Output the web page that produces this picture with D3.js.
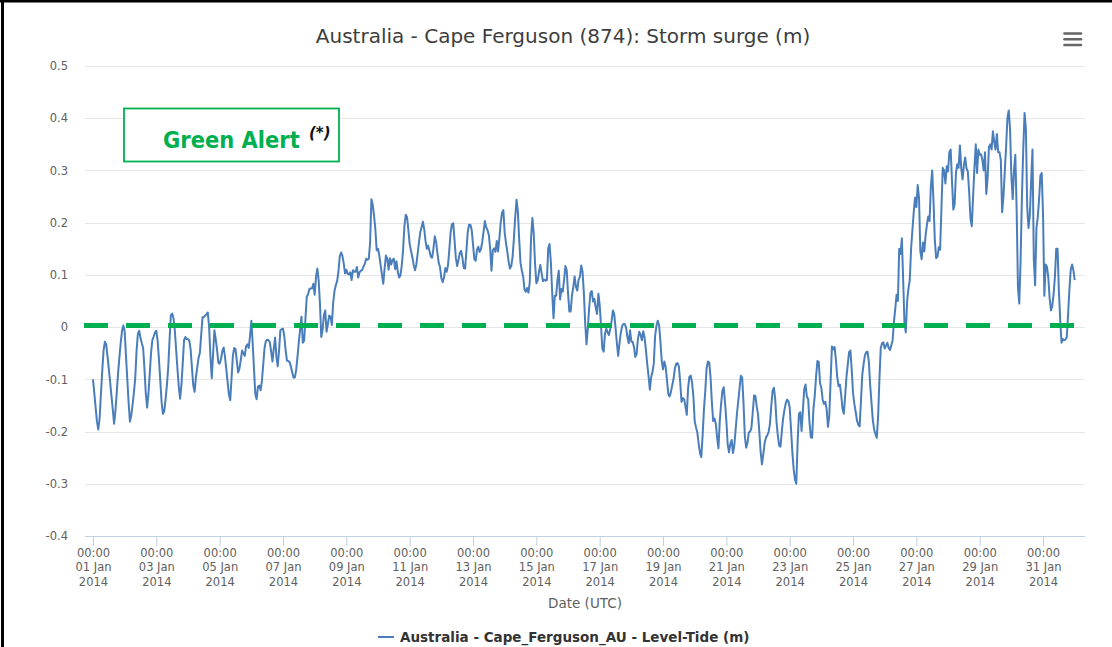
<!DOCTYPE html>
<html>
<head>
<meta charset="utf-8">
<script src="https://cdn.jsdelivr.net/npm/d3@7"></script>
<style>
  html, body { margin: 0; padding: 0; background: #ffffff; }
  svg { display: block; }
</style>
</head>
<body>
<svg id="chart" width="1112" height="647"></svg>
<script>
// ---------------- DATA ----------------
const chartTitle = "Australia - Cape Ferguson (874): Storm surge (m)";
const seriesName = "Australia - Cape_Ferguson_AU - Level-Tide (m)";
const xAxisTitle = "Date (UTC)";
const alertLabel = "Green Alert";
const alertNote = "(*)";
const seriesStart = Date.UTC(2014, 0, 1, 0, 0);   // first reading, 01 Jan 2014 00:00 UTC
const stepHours = 1;                              // hourly readings
const alertLevel = 0.003;                         // green alert threshold line (m)
const yTicks = [0.5, 0.4, 0.3, 0.2, 0.1, 0, -0.1, -0.2, -0.3, -0.4];
const yTickLabels = ["0.5", "0.4", "0.3", "0.2", "0.1", "0", "-0.1", "-0.2", "-0.3", "-0.4"];
const xTickDays = [1, 3, 5, 7, 9, 11, 13, 15, 17, 19, 21, 23, 25, 27, 29, 31];
const xTickLabels = ["01 Jan", "03 Jan", "05 Jan", "07 Jan", "09 Jan", "11 Jan", "13 Jan", "15 Jan",
                     "17 Jan", "19 Jan", "21 Jan", "23 Jan", "25 Jan", "27 Jan", "29 Jan", "31 Jan"];
const xDomainStart = Date.UTC(2013, 11, 31, 17, 56);
const xDomainEnd = Date.UTC(2014, 1, 1, 7, 48);

// storm surge (m), hourly, one row per day (01 Jan ... 31 Jan, then 01 Feb 00:00)
const surge = [
  -0.100,-0.127,-0.154,-0.181,-0.196,-0.175,-0.128,-0.084,-0.045,-0.028,-0.033,-0.056,-0.080,-0.106,-0.132,-0.158,-0.185,-0.160,-0.125,-0.088,-0.058,-0.030,-0.007,0.003,
  -0.008,-0.055,-0.100,-0.145,-0.181,-0.169,-0.149,-0.125,-0.098,-0.046,-0.013,-0.007,-0.021,-0.031,-0.040,-0.080,-0.127,-0.154,-0.128,-0.089,-0.049,-0.025,-0.018,-0.010,
  -0.007,-0.027,-0.062,-0.103,-0.144,-0.166,-0.161,-0.138,-0.111,-0.078,-0.025,0.023,0.026,0.017,-0.006,-0.043,-0.080,-0.114,-0.137,-0.111,-0.070,-0.025,-0.019,-0.023,
  -0.023,-0.026,-0.043,-0.078,-0.112,-0.124,-0.096,-0.077,-0.059,-0.049,-0.015,0.019,0.019,0.022,0.025,0.028,0.000,-0.056,-0.098,-0.052,-0.006,-0.023,-0.043,-0.068,
  -0.070,-0.061,-0.046,-0.039,-0.056,-0.080,-0.105,-0.129,-0.140,-0.098,-0.055,-0.040,-0.042,-0.065,-0.087,-0.079,-0.063,-0.045,-0.050,-0.055,-0.037,-0.033,-0.040,-0.017,
  0.012,-0.030,-0.080,-0.128,-0.138,-0.114,-0.112,-0.121,-0.103,-0.072,-0.040,-0.027,-0.024,-0.025,-0.029,-0.047,-0.066,-0.041,-0.020,-0.057,-0.075,-0.045,-0.006,-0.004,
  -0.003,-0.018,-0.045,-0.064,-0.065,-0.067,-0.076,-0.087,-0.097,-0.096,-0.082,-0.056,-0.028,-0.004,0.020,-0.030,-0.026,0.016,0.058,0.063,0.073,0.074,0.074,0.083,
  0.062,0.096,0.112,0.090,0.045,-0.019,-0.005,0.023,0.032,-0.009,0.006,0.022,0.020,0.004,0.046,0.069,0.080,0.088,0.106,0.135,0.143,0.137,0.122,0.103,
  0.110,0.102,0.101,0.105,0.090,0.109,0.106,0.106,0.115,0.095,0.105,0.108,0.109,0.116,0.121,0.131,0.129,0.131,0.162,0.245,0.234,0.213,0.187,0.147,
  0.150,0.137,0.118,0.100,0.083,0.113,0.137,0.131,0.110,0.132,0.120,0.129,0.131,0.111,0.126,0.106,0.095,0.099,0.118,0.148,0.193,0.215,0.211,0.186,
  0.159,0.146,0.134,0.120,0.109,0.119,0.140,0.162,0.181,0.191,0.202,0.188,0.165,0.150,0.156,0.146,0.135,0.133,0.150,0.174,0.164,0.142,0.123,0.115,
  0.094,0.086,0.095,0.113,0.106,0.118,0.147,0.181,0.197,0.199,0.166,0.132,0.117,0.129,0.142,0.146,0.132,0.113,0.112,0.147,0.182,0.196,0.196,0.186,
  0.159,0.130,0.127,0.148,0.154,0.144,0.149,0.163,0.183,0.203,0.191,0.186,0.176,0.150,0.108,0.147,0.151,0.144,0.165,0.145,0.171,0.200,0.219,0.224,
  0.181,0.161,0.144,0.125,0.112,0.117,0.135,0.170,0.211,0.244,0.221,0.167,0.123,0.108,0.097,0.072,0.068,0.075,0.066,0.086,0.172,0.209,0.180,0.122,
  0.084,0.089,0.106,0.119,0.103,0.088,0.091,0.089,0.090,0.151,0.159,0.124,0.066,0.017,0.060,0.060,0.090,0.108,0.053,0.073,0.068,0.090,0.117,0.109,
  0.066,0.030,0.030,0.061,0.077,0.097,0.077,0.070,0.091,0.096,0.118,0.106,0.066,0.008,-0.033,-0.003,0.036,0.066,0.069,0.049,0.054,0.037,0.025,0.064,
  0.042,0.003,-0.041,-0.047,-0.013,-0.003,-0.010,-0.015,-0.003,0.011,0.032,0.025,-0.001,-0.030,-0.055,-0.031,-0.011,0.002,0.006,0.006,-0.001,-0.019,-0.031,-0.006,
  -0.028,-0.028,-0.038,-0.057,-0.051,-0.022,-0.009,-0.015,-0.025,-0.008,-0.020,-0.043,-0.070,-0.093,-0.120,-0.096,-0.086,-0.070,-0.017,0.002,0.012,0.004,-0.027,-0.064,
  -0.081,-0.066,-0.076,-0.102,-0.128,-0.133,-0.124,-0.111,-0.099,-0.079,-0.070,-0.069,-0.075,-0.105,-0.143,-0.136,-0.138,-0.152,-0.168,-0.117,-0.095,-0.093,-0.106,-0.132,
  -0.180,-0.192,-0.202,-0.223,-0.241,-0.249,-0.208,-0.158,-0.123,-0.079,-0.066,-0.068,-0.095,-0.143,-0.180,-0.175,-0.185,-0.211,-0.232,-0.180,-0.148,-0.122,-0.115,-0.145,
  -0.179,-0.224,-0.240,-0.224,-0.216,-0.241,-0.227,-0.197,-0.166,-0.142,-0.117,-0.093,-0.097,-0.145,-0.209,-0.231,-0.222,-0.202,-0.200,-0.193,-0.163,-0.131,-0.132,-0.152,
  -0.167,-0.201,-0.240,-0.263,-0.243,-0.222,-0.212,-0.207,-0.201,-0.186,-0.152,-0.122,-0.116,-0.137,-0.181,-0.208,-0.227,-0.229,-0.201,-0.175,-0.159,-0.146,-0.139,-0.142,
  -0.154,-0.195,-0.239,-0.272,-0.292,-0.300,-0.221,-0.166,-0.163,-0.199,-0.159,-0.119,-0.110,-0.133,-0.138,-0.182,-0.211,-0.212,-0.156,-0.131,-0.094,-0.065,-0.066,-0.107,
  -0.117,-0.139,-0.147,-0.143,-0.157,-0.191,-0.170,-0.103,-0.037,-0.043,-0.038,-0.062,-0.095,-0.113,-0.110,-0.129,-0.156,-0.166,-0.133,-0.096,-0.072,-0.048,-0.045,-0.081,
  -0.126,-0.147,-0.162,-0.179,-0.187,-0.190,-0.142,-0.092,-0.071,-0.054,-0.048,-0.047,-0.067,-0.111,-0.145,-0.178,-0.196,-0.205,-0.212,-0.172,-0.100,-0.040,-0.031,-0.029,
  -0.041,-0.036,-0.030,-0.040,-0.044,-0.035,-0.025,0.010,0.035,0.062,0.050,0.150,0.140,0.170,0.090,0.006,-0.010,0.050,0.074,0.090,0.150,0.186,0.220,0.248,
  0.230,0.272,0.248,0.145,0.130,0.162,0.145,0.176,0.196,0.212,0.203,0.270,0.300,0.240,0.165,0.132,0.135,0.153,0.148,0.228,0.305,0.300,0.275,0.308,
  0.298,0.335,0.340,0.280,0.225,0.235,0.295,0.312,0.305,0.348,0.305,0.283,0.310,0.325,0.304,0.298,0.260,0.208,0.193,0.250,0.305,0.350,0.295,0.340,
  0.330,0.331,0.320,0.300,0.335,0.255,0.285,0.345,0.350,0.340,0.375,0.355,0.340,0.370,0.335,0.335,0.320,0.220,0.250,0.298,0.345,0.400,0.415,0.379,
  0.290,0.245,0.300,0.330,0.225,0.075,0.045,0.130,0.250,0.340,0.410,0.380,0.230,0.190,0.215,0.280,0.340,0.130,0.080,0.190,0.210,0.245,0.290,0.295,
  0.215,0.060,0.120,0.115,0.095,0.055,0.032,0.040,0.063,0.096,0.150,0.150,0.070,0.015,-0.030,-0.023,-0.025,-0.024,-0.019,0.025,0.073,0.110,0.120,0.109,
  0.090
];

// ---------------- DRAWING ----------------
const svg = d3.select("#chart");
const W = 1112, H = 647;
const plot = { left: 85, right: 1085, top: 66, bottom: 536 };
const labelFont = "'DejaVu Sans', Verdana, sans-serif";
const condFont = "'DejaVu Sans Condensed', 'DejaVu Sans', sans-serif";

const points = surge.map((v, i) => ({ t: new Date(seriesStart + i * stepHours * 3600e3), v }));
const xTicks = xTickDays.map(d => new Date(Date.UTC(2014, 0, d, 0, 0)));

const x = d3.scaleUtc().domain([new Date(xDomainStart), new Date(xDomainEnd)]).range([plot.left, plot.right]);
const y = d3.scaleLinear().domain([yTicks[yTicks.length - 1], yTicks[0]]).range([plot.bottom, plot.top]);

svg.append("rect").attr("width", W).attr("height", H).attr("fill", "#ffffff");

// page frame (top and left edges)
svg.append("rect").attr("x", 0).attr("y", 0).attr("width", W).attr("height", 2.5).attr("fill", "#000");
svg.append("rect").attr("x", 1).attr("y", 0).attr("width", 3).attr("height", H).attr("fill", "#000");

// title
svg.append("text")
  .attr("x", 563).attr("y", 43)
  .attr("text-anchor", "middle")
  .attr("font-family", labelFont)
  .attr("font-size", 20)
  .attr("fill", "#3d3d3d")
  .text(chartTitle);

// menu icon
const menu = svg.append("g").attr("stroke", "#666").attr("stroke-width", 2.6).attr("stroke-linecap", "round");
[33.5, 39.3, 45].forEach(yy => menu.append("line").attr("x1", 1064.5).attr("x2", 1081).attr("y1", yy).attr("y2", yy));

// grid lines
svg.append("g")
  .selectAll("line")
  .data(yTicks)
  .join("line")
  .attr("x1", plot.left).attr("x2", plot.right)
  .attr("y1", d => Math.round(y(d)) + 0.5).attr("y2", d => Math.round(y(d)) + 0.5)
  .attr("stroke", "#e6e6e6").attr("stroke-width", 1);

// y axis labels
const yAxis = d3.axisLeft(y).tickValues(yTicks).tickSize(0).tickPadding(17)
  .tickFormat((d, i) => yTickLabels[i]);
const gy = svg.append("g").attr("transform", `translate(${plot.left},0)`).call(yAxis);
gy.select(".domain").remove();
gy.selectAll("text")
  .attr("font-family", labelFont).attr("font-size", 11.5).attr("fill", "#606060");

// x axis
const xAxis = d3.axisBottom(x).tickValues(xTicks).tickSize(10).tickSizeOuter(0).tickPadding(0).tickFormat(() => "");
const gx = svg.append("g").attr("transform", `translate(0,${plot.bottom})`).call(xAxis);
gx.select(".domain").attr("stroke", "#c0d0e0").attr("d", `M${plot.left},0.5H${plot.right}`);
gx.selectAll(".tick line").attr("stroke", "#c0d0e0");
gx.selectAll(".tick text").remove();
gx.selectAll(".tick").each(function (d, i) {
  const t = d3.select(this).append("text")
    .attr("text-anchor", "middle")
    .attr("font-family", labelFont).attr("font-size", 11.5).attr("fill", "#606060");
  ["00:00", xTickLabels[i], "2014"].forEach((s, k) => {
    t.append("tspan").attr("x", 0).attr("y", 20.5 + k * 14.8).text(s);
  });
});

// x axis title
svg.append("text")
  .attr("x", (plot.left + plot.right) / 2).attr("y", 608)
  .attr("text-anchor", "middle")
  .attr("font-family", labelFont).attr("font-size", 13.5).attr("fill", "#606060")
  .text(xAxisTitle);

// data line
const line = d3.line().x(d => x(d.t)).y(d => y(d.v)).curve(d3.curveLinear);
svg.append("path")
  .datum(points)
  .attr("d", line)
  .attr("fill", "none")
  .attr("stroke", "#4a7ebb")
  .attr("stroke-width", 2)
  .attr("stroke-linejoin", "round");

// green alert threshold line
svg.append("line")
  .attr("x1", plot.left - 1).attr("x2", x(points[points.length - 1].t))
  .attr("y1", y(alertLevel)).attr("y2", y(alertLevel))
  .attr("stroke", "#00b050").attr("stroke-width", 5)
  .attr("stroke-dasharray", "24,18");

// alert box
svg.append("rect")
  .attr("x", 124).attr("y", 108.5).attr("width", 215).attr("height", 53)
  .attr("fill", "#fff").attr("stroke", "#00b050").attr("stroke-width", 1.8);
svg.append("text")
  .attr("x", 163).attr("y", 147.5)
  .attr("font-family", condFont)
  .attr("font-weight", "bold").attr("font-size", 23.4).attr("fill", "#00b050")
  .text(alertLabel);
svg.append("text")
  .attr("x", 309).attr("y", 137.5)
  .attr("font-family", labelFont)
  .attr("font-weight", "bold").attr("font-style", "italic").attr("font-size", 15).attr("fill", "#111")
  .text(alertNote);

// legend
svg.append("line")
  .attr("x1", 378).attr("x2", 394).attr("y1", 637).attr("y2", 637)
  .attr("stroke", "#4a7ebb").attr("stroke-width", 2);
svg.append("text")
  .attr("x", 400).attr("y", 641.5)
  .attr("font-family", labelFont)
  .attr("font-weight", "bold").attr("font-size", 13.5).attr("fill", "#333")
  .text(seriesName);
</script>
</body>
</html>
